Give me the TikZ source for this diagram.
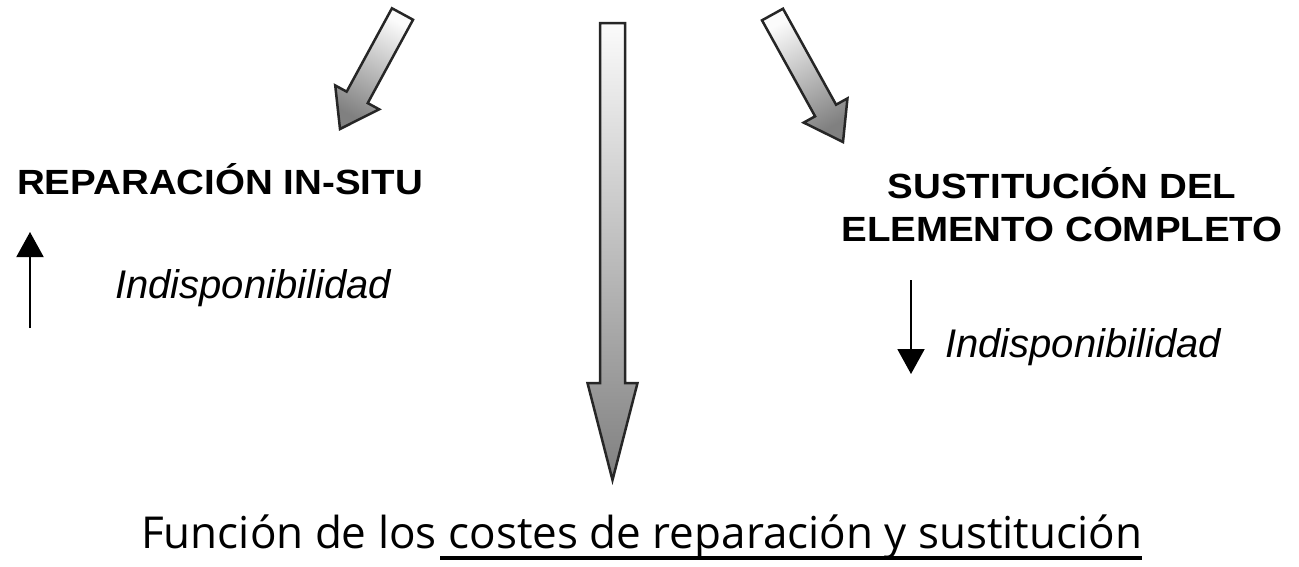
\documentclass[tikz,border=0pt]{standalone}
\usepackage{fontspec}
\setmainfont{Liberation Sans}
\newfontfamily\labfont{Liberation Sans}[FakeStretch=1.1]
\newfontfamily\handfont{Open Sans}
\usetikzlibrary{arrows.meta,calc}
\tikzset{
  bigarrow/.style={draw=black!85, line width=2.5pt, line join=miter,
                   top color=gray!3, bottom color=black!50},
  boldlabel/.style={inner sep=0pt, font=\labfont\bfseries\fontsize{35}{42}\selectfont},
  itlabel/.style={inner sep=0pt, font=\itshape\fontsize{40}{48}\selectfont},
  handtext/.style={inner sep=0pt, font=\handfont\fontsize{44}{52}\selectfont},
  smallarrow/.style={line width=2pt, -{Triangle[width=27pt,length=25pt]}}
}
% #1 tail, #2 tip, #3 head length, #4 shaft half width, #5 head half width, #6 shading angle
\newcommand\fatarrow[6]{%
  \coordinate (hb) at ($(#2)!#3!(#1)$);
  \draw[bigarrow, shading angle=#6]
    ($(#1)!#4!90:(#2)$) -- ($(hb)!#4!-90:(#1)$) -- ($(hb)!#5!-90:(#1)$) -- (#2)
    -- ($(hb)!#5!90:(#1)$) -- ($(hb)!#4!90:(#1)$) -- ($(#1)!#4!-90:(#2)$) -- cycle;
}
\begin{document}
\begin{tikzpicture}[x=1pt,y=-1pt]
\useasboundingbox (0,0) rectangle (1299,566);

% big arrows
\coordinate (lt) at (402.5,14);  \coordinate (lh) at (340,129);
\coordinate (ct) at (612.5,23);  \coordinate (ch) at (612.5,480);
\coordinate (rt) at (772.5,14.5); \coordinate (rh) at (843,142);
\fatarrow{lt}{lh}{36pt}{12pt}{25pt}{-28.5}
\fatarrow{ct}{ch}{97pt}{12.5pt}{25pt}{0}
\fatarrow{rt}{rh}{36pt}{12pt}{25pt}{29}

% labels
\node[boldlabel, anchor=base west] (rep) at (17,194) {REPARACIÓN IN-SITU};
\node[boldlabel, anchor=base] (sus1) at (1062,198) {SUSTITUCIÓN DEL};
\node[boldlabel, anchor=base] (sus2) at (1062,241) {ELEMENTO COMPLETO};
\node[itlabel, anchor=base west] (ind1) at (115,298) {Indisponibilidad};
\node[itlabel, anchor=base west] (ind2) at (945,357) {Indisponibilidad};

% small arrows
\coordinate (ua0) at (30,328); \coordinate (ua1) at (30,232);
\draw[smallarrow] (ua0) -- (ua1);
\coordinate (da0) at (911,280); \coordinate (da1) at (911,374);
\draw[smallarrow] (da0) -- (da1);

% bottom text
\node[handtext, anchor=base east] (f1) at (437,548) {Función de los};
\node[handtext, anchor=base west] (f2) at (f1.base east) {\ costes de reparación y sustitución};
\draw[line width=4pt] ([xshift=3pt,yshift=-10pt]f2.base west) -- ([yshift=-10pt]f2.base east);
\end{tikzpicture}
\end{document}
